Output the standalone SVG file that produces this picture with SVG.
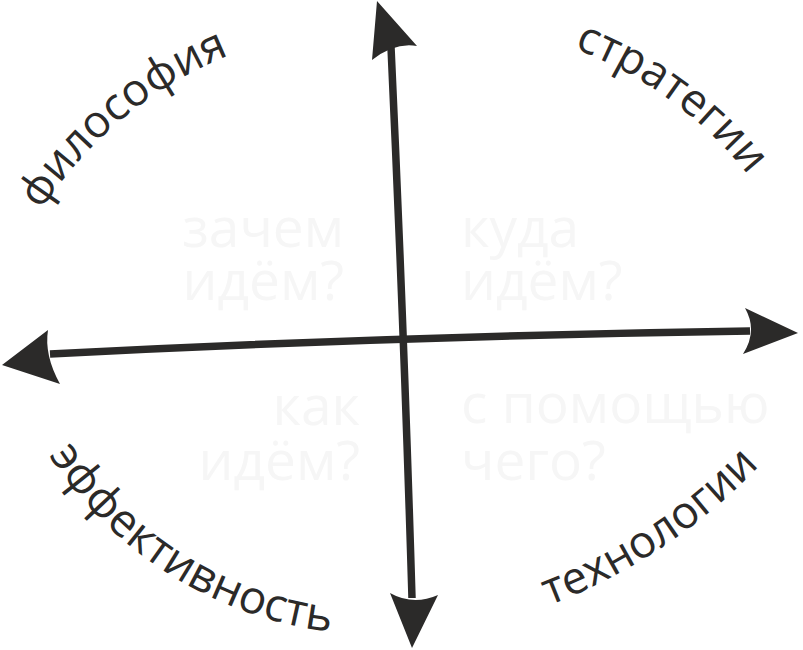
<svg xmlns="http://www.w3.org/2000/svg" xmlns:xlink="http://www.w3.org/1999/xlink" width="803" height="650" viewBox="0 0 803 650">
<style>
.axis{fill:none;stroke:#2b2a29;stroke-width:7.5;stroke-linecap:butt}
.head{fill:#2b2a29;stroke:none}
.lbl{font-family:"Open Sans","Noto Sans","DejaVu Sans",sans-serif;font-size:45px;fill:#2b2a29}
.q{font-family:"Open Sans","Noto Sans","DejaVu Sans",sans-serif;font-size:55px;fill:#f6f6f6}
</style>
<defs>
<path id="arcPhil" d="M -22,422.5 A 399 399 0 0 1 449.7,33.7"/>
<path id="arcStrat" d="M 335.5,35 A 403 403 0 0 1 835,397.9"/>
<path id="arcEff" d="M -10.8,291.9 A 393 393 0 0 0 495.9,617.2"/>
<path id="arcTech" d="M 183.2,619.7 A 573 573 0 0 0 914.4,133.9"/>
</defs>
<rect width="803" height="650" fill="#ffffff"/>
<g id="questions">
<g id="q-why"><text class="q" text-anchor="end"><tspan x="344" y="247">зачем</tspan><tspan x="344" y="300">идём?</tspan></text></g>
<g id="q-where"><text class="q"><tspan x="461" y="247">куда</tspan><tspan x="461" y="300">идём?</tspan></text></g>
<g id="q-how"><text class="q" text-anchor="end"><tspan x="360" y="425">как</tspan><tspan x="360" y="480">идём?</tspan></text></g>
<g id="q-with"><text class="q"><tspan x="461" y="423">с помощью</tspan><tspan x="461" y="480">чего?</tspan></text></g>
</g>
<g id="connectors">
<g id="axis-vertical">
<path class="axis" d="M391,47 Q404,330 412,598"/>
<path class="head" d="M377,1 L417,46 Q395,42 372,60 Z"/>
<path class="head" d="M412,648 L390,593 Q413,606 438,595 Z"/>
</g>
<g id="axis-horizontal">
<path class="axis" d="M50,354 Q400,336 750,331"/>
<path class="head" d="M798,333 L745,308 Q758,331 743,354 Z"/>
<path class="head" d="M2,365 L48,330 Q44,355 60,384 Z"/>
</g>
</g>
<g id="label-philosophy"><text class="lbl"><textPath xlink:href="#arcPhil" href="#arcPhil" startOffset="50%" text-anchor="middle">философия</textPath></text></g>
<g id="label-strategies"><text class="lbl"><textPath xlink:href="#arcStrat" href="#arcStrat" startOffset="50%" text-anchor="middle">стратегии</textPath></text></g>
<g id="label-efficiency"><text class="lbl" style="font-size:46px"><textPath xlink:href="#arcEff" href="#arcEff" startOffset="50.6%" text-anchor="middle">эффективность</textPath></text></g>
<g id="label-technologies"><text class="lbl"><textPath xlink:href="#arcTech" href="#arcTech" startOffset="50%" text-anchor="middle">технологии</textPath></text></g>
</svg>
